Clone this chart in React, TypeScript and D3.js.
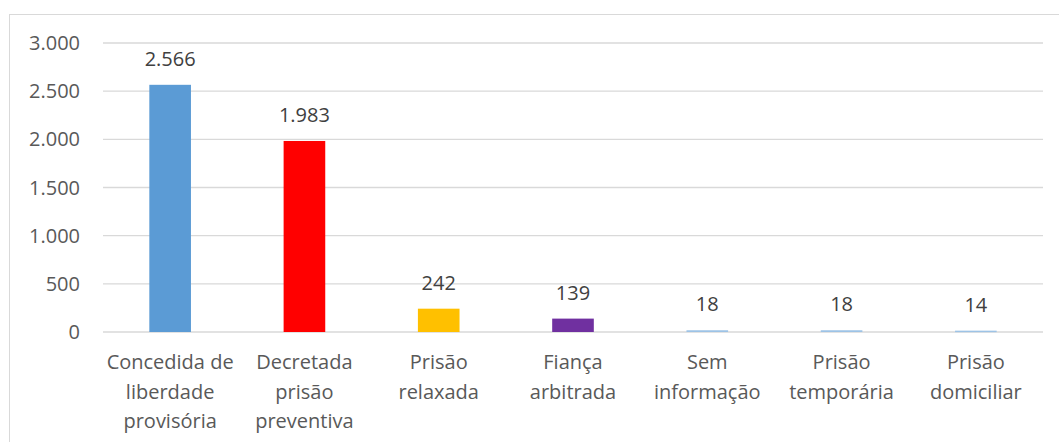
import React from "react";
import * as d3 from "d3";

const categories: string[][] = [
  ["Concedida de", "liberdade", "provisória"],
  ["Decretada", "prisão", "preventiva"],
  ["Prisão", "relaxada"],
  ["Fiança", "arbitrada"],
  ["Sem", "informação"],
  ["Prisão", "temporária"],
  ["Prisão", "domiciliar"],
];
const values: number[] = [2566, 1983, 242, 139, 18, 18, 14];
const colors: string[] = ["#5B9BD5", "#FF0000", "#FFC000", "#7030A0", "#9DC3E6", "#9DC3E6", "#9DC3E6"];
const yTicks: number[] = [0, 500, 1000, 1500, 2000, 2500, 3000];

const W = 1059;
const H = 442;
const fmt = (v: number) => d3.format(",")(v).replace(/,/g, ".");

export default function App() {
  const x = d3.scaleBand<number>().domain(d3.range(values.length)).range([103, 1043]).paddingInner(0.69).paddingOuter(0.345);
  const y = d3.scaleLinear().domain([0, 3000]).range([332, 43]);
  const font = "'Open Sans', 'Liberation Sans', sans-serif";
  return (
    <svg width={W} height={H} style={{ position: "absolute", left: 0, top: 0 }} fontFamily={font}>
      <rect x={0} y={0} width={W} height={H} fill="#fff" />
      <rect x={9.5} y={14.5} width={W + 10} height={H + 10} fill="none" stroke="#d9d9d9" strokeWidth={1} />
      {yTicks.map((t) => (
        <g key={t}>
          <line x1={103} x2={1043} y1={y(t)} y2={y(t)} stroke="#d9d9d9" strokeWidth={1.3} />
          <text x={80} y={y(t)} dy="0.35em" textAnchor="end" fontSize={20} fill="#595959">
            {fmt(t)}
          </text>
        </g>
      ))}
      {values.map((v, i) => (
        <g key={i}>
          <rect x={x(i)} y={y(v)} width={x.bandwidth()} height={Math.max(y(0) - y(v), 1.5)} fill={colors[i]} />
          <text x={(x(i) as number) + x.bandwidth() / 2} y={y(v) - 19} textAnchor="middle" fontSize={20} fill="#404040">
            {fmt(v)}
          </text>
          {categories[i].map((line, j) => (
            <text key={j} x={(x(i) as number) + x.bandwidth() / 2} y={369 + j * 29.5} textAnchor="middle" fontSize={20} fill="#595959">
              {line}
            </text>
          ))}
        </g>
      ))}
    </svg>
  );
}
